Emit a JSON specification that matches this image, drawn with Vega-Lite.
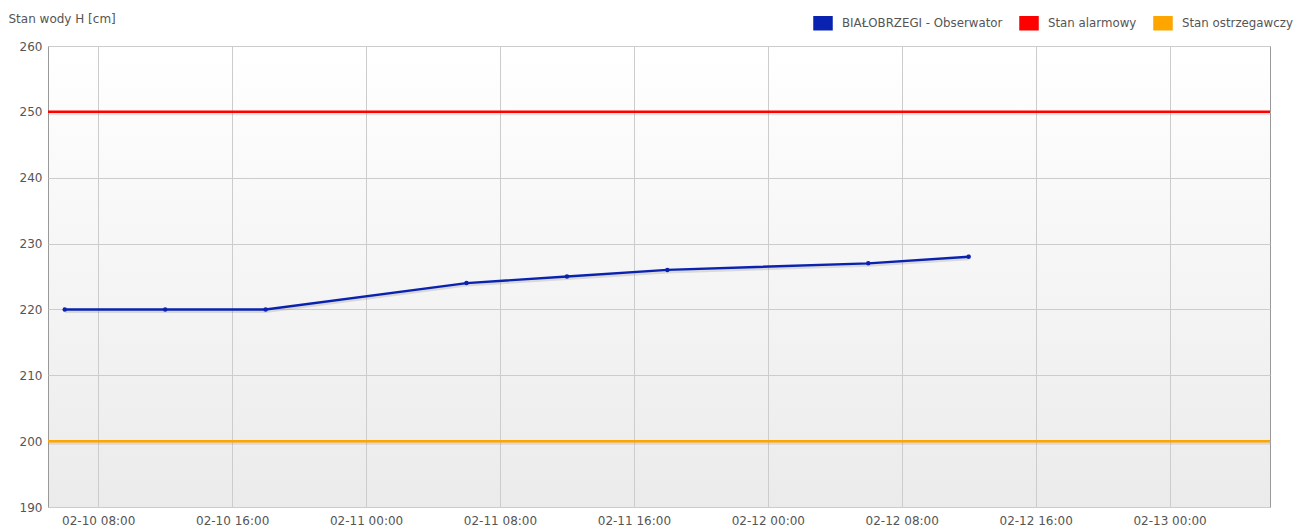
{
  "$schema": "https://vega.github.io/schema/vega-lite/v6.json",
  "width": 1222,
  "height": 461,
  "autosize": {"type": "none"},
  "padding": {"left": 48, "top": 46, "right": 33, "bottom": 21},
  "background": "#ffffff",
  "config": {
    "font": "DejaVu Sans",
    "view": {
      "stroke": "#999999",
      "strokeWidth": 1,
      "fill": {"gradient": "linear", "x1": 0, "y1": 0, "x2": 0, "y2": 1, "stops": [{"offset": 0, "color": "#ffffff"}, {"offset": 1, "color": "#ebebeb"}]}
    },
    "axis": {"labelFont": "DejaVu Sans", "titleFont": "DejaVu Sans", "labelColor": "#555555", "titleColor": "#555555", "labelFontSize": 12, "titleFontSize": 12, "gridColor": "#cccccc", "gridWidth": 1, "ticks": false, "domain": false}
  },
  "datasets": {
    "series": [
      {"t": "2025-02-10T06:00:00", "h": 220, "s": "BIAŁOBRZEGI - Obserwator"},
      {"t": "2025-02-10T12:00:00", "h": 220, "s": "BIAŁOBRZEGI - Obserwator"},
      {"t": "2025-02-10T18:00:00", "h": 220, "s": "BIAŁOBRZEGI - Obserwator"},
      {"t": "2025-02-11T06:00:00", "h": 224, "s": "BIAŁOBRZEGI - Obserwator"},
      {"t": "2025-02-11T12:00:00", "h": 225, "s": "BIAŁOBRZEGI - Obserwator"},
      {"t": "2025-02-11T18:00:00", "h": 226, "s": "BIAŁOBRZEGI - Obserwator"},
      {"t": "2025-02-12T06:00:00", "h": 227, "s": "BIAŁOBRZEGI - Obserwator"},
      {"t": "2025-02-12T12:00:00", "h": 228, "s": "BIAŁOBRZEGI - Obserwator"}
    ],
    "thresholds": [
      {"h": 250, "s": "Stan alarmowy"},
      {"h": 200, "s": "Stan ostrzegawczy"}
    ]
  },
  "encoding": {
    "y": {
      "field": "h", "type": "quantitative",
      "scale": {"domain": [190, 260], "nice": false, "zero": false},
      "axis": {"values": [190, 200, 210, 220, 230, 240, 250, 260], "title": "Stan wody H [cm]", "titleAngle": 0, "titleAlign": "left", "titleBaseline": "middle", "titleX": -40, "titleY": -28, "titleFontWeight": "normal", "labelPadding": 6}
    }
  },
  "layer": [
    {
      "data": {"name": "thresholds"},
      "mark": {"type": "rule", "color": "#888888", "strokeWidth": 3, "opacity": 0.2, "yOffset": 2},
      "encoding": {}
    },
    {
      "data": {"name": "thresholds"},
      "mark": {"type": "rule", "strokeWidth": 2.5},
      "encoding": {
        "color": {"field": "s", "type": "nominal"}
      }
    },
    {
      "data": {"name": "series"},
      "mark": {"type": "line", "color": "#777777", "strokeWidth": 3, "opacity": 0.22, "yOffset": 2},
      "encoding": {
        "x": {"field": "t", "type": "temporal"}
      }
    },
    {
      "data": {"name": "series"},
      "mark": {"type": "line", "strokeWidth": 2.4},
      "encoding": {
        "x": {
          "field": "t", "type": "temporal",
          "scale": {"domain": [{"year": 2025, "month": 2, "date": 10, "hours": 5}, {"year": 2025, "month": 2, "date": 13, "hours": 6}]},
          "axis": {
            "title": null, "format": "%m-%d %H:%M", "labelPadding": 8, "labelFlush": false,
            "values": [
              {"year": 2025, "month": 2, "date": 10, "hours": 8},
              {"year": 2025, "month": 2, "date": 10, "hours": 16},
              {"year": 2025, "month": 2, "date": 11, "hours": 0},
              {"year": 2025, "month": 2, "date": 11, "hours": 8},
              {"year": 2025, "month": 2, "date": 11, "hours": 16},
              {"year": 2025, "month": 2, "date": 12, "hours": 0},
              {"year": 2025, "month": 2, "date": 12, "hours": 8},
              {"year": 2025, "month": 2, "date": 12, "hours": 16},
              {"year": 2025, "month": 2, "date": 13, "hours": 0}
            ]
          }
        },
        "color": {
          "field": "s", "type": "nominal",
          "scale": {"domain": ["BIAŁOBRZEGI - Obserwator", "Stan alarmowy", "Stan ostrzegawczy"], "range": ["#0a22b0", "#ff0000", "#ffa500"]},
          "legend": {
            "title": null, "orient": "none", "direction": "horizontal", "legendX": 765, "legendY": -33,
            "symbolType": "M-1,-0.72L1,-0.72L1,0.72L-1,0.72Z", "symbolSize": 324, "symbolStrokeWidth": 1.5, "symbolStrokeColor": "#b8b8b8",
            "labelFont": "DejaVu Sans", "labelFontSize": 11.8, "labelColor": "#555555", "labelOffset": 9, "columnPadding": 14, "labelLimit": 0,
            "encode": {"symbols": {
              "enter": {"stroke": {"value": "#b8b8b8"}, "strokeWidth": {"value": 1.5}},
              "update": {"fill": {"scale": "color", "field": "value"}, "stroke": {"value": "#b8b8b8"}, "strokeWidth": {"value": 1.5}, "fillOpacity": {"value": 1}, "opacity": {"value": 1}}
            }}
          }
        }
      }
    },
    {
      "data": {"name": "series"},
      "mark": {"type": "point", "filled": true, "size": 20, "opacity": 1},
      "encoding": {
        "x": {"field": "t", "type": "temporal"},
        "color": {"field": "s", "type": "nominal"}
      }
    }
  ]
}
